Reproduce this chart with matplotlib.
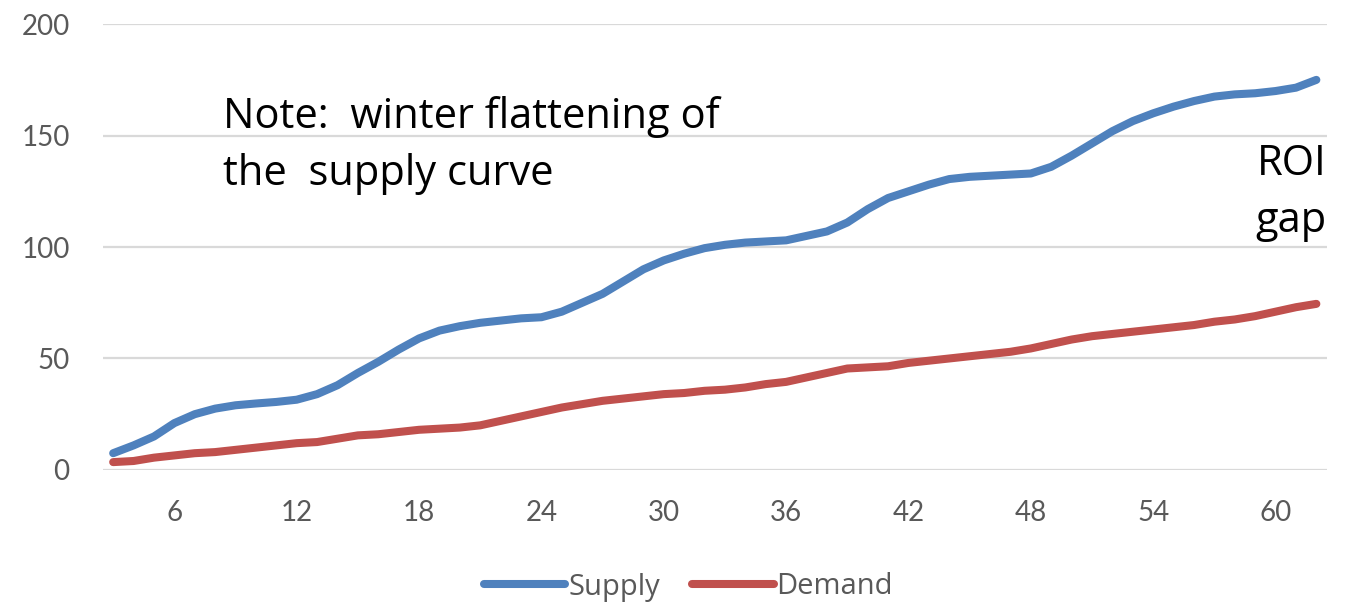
import matplotlib
matplotlib.use("Agg")
import matplotlib.pyplot as plt

# months 3..62
months = list(range(3, 63))

supply = [7.5, 11, 15, 21, 25, 27.5, 29, 29.8, 30.5, 31.5,
          34, 38, 43.5, 48.5, 54, 59, 62.5, 64.5, 66, 67,
          68, 68.5, 71, 75, 79, 84.5, 90, 94, 97, 99.5,
          101, 102, 102.5, 103, 105, 107, 111, 117, 122, 125,
          128, 130.5, 131.5, 132, 132.5, 133, 136, 141, 146.5, 152,
          156.5, 160, 163, 165.5, 167.5, 168.5, 169, 170, 171.5, 175]

demand = [3.5, 4, 5.5, 6.5, 7.5, 8, 9, 10, 11, 12,
          12.5, 14, 15.5, 16, 17, 18, 18.5, 19, 20, 22,
          24, 26, 28, 29.5, 31, 32, 33, 34, 34.5, 35.5,
          36, 37, 38.5, 39.5, 41.5, 43.5, 45.5, 46, 46.5, 48,
          49, 50, 51, 52, 53, 54.5, 56.5, 58.5, 60, 61,
          62, 63, 64, 65, 66.5, 67.5, 69, 71, 73, 74.5]

xticks = [6, 12, 18, 24, 30, 36, 42, 48, 54, 60]
yticks = [0, 50, 100, 150, 200]

BLUE = "#4F81BD"
RED = "#C0504D"
GRAY = "#595959"

plt.rcParams['font.family'] = ['Lato', 'DejaVu Sans']

W, H = 1355, 604
fig = plt.figure(figsize=(W / 100, H / 100), dpi=100)
ax = fig.add_axes([0.076, 0.222, 0.903, 0.738])

ax.plot(months, supply, color=BLUE, lw=5.8, solid_capstyle='round',
        solid_joinstyle='round', label='Supply', zorder=3)
ax.plot(months, demand, color=RED, lw=5.8, solid_capstyle='round',
        solid_joinstyle='round', label='Demand', zorder=3)

ax.set_xlim(2.5, 62.5)
ax.set_ylim(0, 200)
ax.set_xticks(xticks)
ax.set_yticks(yticks)
ax.grid(axis='y', color='#D9D9D9', lw=1.6)
ax.set_axisbelow(True)
for s in ax.spines.values():
    s.set_visible(False)
ax.tick_params(length=0, labelsize=20, labelcolor=GRAY)
ax.tick_params(axis='y', pad=24)
ax.tick_params(axis='x', pad=22)

# anotacoes (posicoes em pixels a partir do topo)
def px_text(x, y, s, ha='left'):
    fig.text(x / W, 1 - y / H, s, fontsize=30, family='Open Sans',
             color='black', ha=ha, va='baseline')

px_text(223, 128, "Note:  winter flattening of")
px_text(223, 185, "the  supply curve")
px_text(1327, 175, "ROI", ha='right')
px_text(1327, 232, "gap", ha='right')

leg = fig.legend(loc='center', bbox_to_anchor=(0.508, 1 - 587 / H), ncol=2,
                 frameon=False, prop={'family': 'Open Sans', 'size': 21},
                 handlelength=2.8, handletextpad=0.1, columnspacing=1.1)
for t in leg.get_texts():
    t.set_color(GRAY)

fig.savefig("out.png", dpi=100)
